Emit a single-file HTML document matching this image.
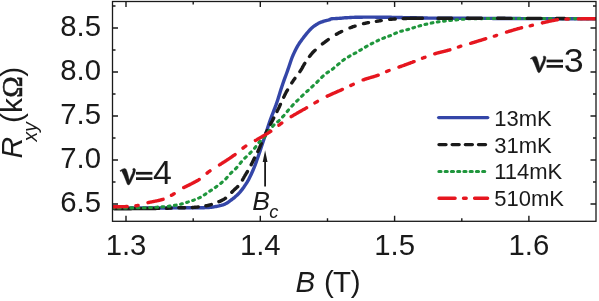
<!DOCTYPE html>
<html><head><meta charset="utf-8"><title>Rxy vs B</title>
<style>html,body{margin:0;padding:0;background:#fff;}body{width:599px;height:301px;overflow:hidden;position:relative;font-family:"Liberation Sans",sans-serif;}</style>
</head><body>
<svg width="599" height="301" viewBox="0 0 599 301" style="position:absolute;left:0;top:0;will-change:transform">
<rect x="0" y="0" width="599" height="301" fill="#fff"/>
<defs><clipPath id="cp"><rect x="112.5" y="1.5" width="483.5" height="219.8"/></clipPath></defs>
<g clip-path="url(#cp)" fill="none" stroke-linecap="round" stroke-linejoin="round" stroke-width="3.4">
<path d="M113.0,208.0 L114.0,208.0 L115.0,208.0 L116.0,208.0 L117.0,208.0 L118.0,208.0 L119.0,208.0 L120.0,208.0 L121.0,208.0 L122.0,208.0 L123.0,208.0 L124.0,208.0 L125.0,208.0 L126.0,208.0 L127.0,208.0 L128.0,208.0 L129.0,208.0 L130.0,208.0 L131.0,208.0 L132.0,208.0 L133.0,208.0 L134.0,208.0 L135.0,208.0 L136.0,208.0 L137.0,208.0 L138.0,208.0 L139.0,208.0 L140.0,208.0 L141.0,208.0 L142.0,208.0 L143.0,208.0 L144.0,208.0 L145.0,208.0 L146.0,208.0 L147.0,208.0 L148.0,208.0 L149.0,208.0 L150.0,208.0 L151.0,208.0 L152.0,208.0 L153.0,208.0 L154.0,208.0 L155.0,208.0 L156.0,208.0 L157.0,208.0 L158.0,208.0 L159.0,208.0 L160.0,208.0 L161.0,208.0 L162.0,208.0 L163.0,208.0 L164.0,208.0 L165.0,208.0 L166.0,208.0 L167.0,208.0 L168.0,208.0 L169.0,208.0 L170.0,208.0 L171.0,208.0 L172.0,208.0 L173.0,207.9 L174.0,207.9 L175.0,207.9 L176.0,207.9 L177.0,207.9 L178.0,207.9 L179.0,207.9 L180.0,207.9 L181.0,207.9 L182.0,207.9 L183.0,207.9 L184.0,207.9 L185.0,207.8 L186.0,207.8 L187.0,207.8 L188.0,207.8 L189.0,207.8 L190.0,207.8 L191.0,207.8 L192.0,207.8 L193.0,207.8 L194.0,207.8 L195.0,207.8 L196.0,207.8 L197.0,207.7 L198.0,207.7 L199.0,207.7 L200.0,207.7 L201.0,207.7 L202.0,207.7 L203.0,207.7 L204.0,207.7 L205.0,207.6 L206.0,207.6 L207.0,207.6 L208.0,207.5 L209.0,207.5 L210.0,207.4 L211.0,207.3 L212.0,207.2 L213.0,207.0 L214.0,206.9 L215.0,206.7 L216.0,206.5 L217.0,206.3 L218.0,206.1 L219.0,205.9 L220.0,205.6 L221.0,205.4 L222.0,205.1 L223.0,204.9 L224.0,204.5 L225.0,204.1 L226.0,203.6 L227.0,203.0 L228.0,202.3 L229.0,201.6 L230.0,200.9 L231.0,200.2 L232.0,199.4 L233.0,198.7 L234.0,197.9 L235.0,197.0 L236.0,196.1 L237.0,195.2 L238.0,194.2 L239.0,193.2 L240.0,192.1 L241.0,190.9 L242.0,189.7 L243.0,188.3 L244.0,186.9 L245.0,185.4 L246.0,183.9 L247.0,182.3 L248.0,180.6 L249.0,178.8 L250.0,176.8 L251.0,174.7 L252.0,172.5 L253.0,170.2 L254.0,167.8 L255.0,165.3 L256.0,162.6 L257.0,159.8 L258.0,157.0 L259.0,154.0 L260.0,151.1 L261.0,148.0 L262.0,145.0 L263.0,142.0 L264.0,139.0 L265.0,136.0 L266.0,133.0 L267.0,129.9 L268.0,126.8 L269.0,123.8 L270.0,120.9 L271.0,118.1 L272.0,115.4 L273.0,112.8 L274.0,110.2 L275.0,107.6 L276.0,104.9 L277.0,102.0 L278.0,99.0 L279.0,95.8 L280.0,92.5 L281.0,89.3 L282.0,86.2 L283.0,83.3 L284.0,80.4 L285.0,77.7 L286.0,75.0 L287.0,72.2 L288.0,69.4 L289.0,66.5 L290.0,63.4 L291.0,60.5 L292.0,57.7 L293.0,55.3 L294.0,53.1 L295.0,51.0 L296.0,49.0 L297.0,47.1 L298.0,45.4 L299.0,43.8 L300.0,42.3 L301.0,40.9 L302.0,39.5 L303.0,38.2 L304.0,36.9 L305.0,35.7 L306.0,34.4 L307.0,33.2 L308.0,32.0 L309.0,30.8 L310.0,29.7 L311.0,28.7 L312.0,27.8 L313.0,26.9 L314.0,26.2 L315.0,25.5 L316.0,24.8 L317.0,24.2 L318.0,23.6 L319.0,23.1 L320.0,22.6 L321.0,22.2 L322.0,21.8 L323.0,21.5 L324.0,21.2 L325.0,20.9 L326.0,20.6 L327.0,20.3 L328.0,20.1 L329.0,19.8 L330.0,19.5 L331.0,18.9 L332.0,18.7 L333.0,18.6 L334.0,18.6 L335.0,18.6 L336.0,18.5 L337.0,18.5 L338.0,18.4 L339.0,18.4 L340.0,18.3 L341.0,18.2 L342.0,18.1 L343.0,18.0 L344.0,17.9 L345.0,17.8 L346.0,17.7 L347.0,17.7 L348.0,17.6 L349.0,17.6 L350.0,17.5 L351.0,17.5 L352.0,17.4 L353.0,17.4 L354.0,17.4 L355.0,17.3 L356.0,17.3 L357.0,17.3 L358.0,17.3 L359.0,17.2 L360.0,17.2 L361.0,17.2 L362.0,17.2 L363.0,17.1 L364.0,17.1 L365.0,17.1 L366.0,17.1 L367.0,17.1 L368.0,17.1 L369.0,17.1 L370.0,17.1 L371.0,17.1 L372.0,17.1 L373.0,17.1 L374.0,17.1 L375.0,17.1 L376.0,17.2 L377.0,17.2 L378.0,17.2 L379.0,17.2 L380.0,17.2 L381.0,17.2 L382.0,17.2 L383.0,17.2 L384.0,17.2 L385.0,17.3 L386.0,17.3 L387.0,17.3 L388.0,17.3 L389.0,17.3 L390.0,17.3 L391.0,17.3 L392.0,17.4 L393.0,17.4 L394.0,17.4 L395.0,17.4 L396.0,17.4 L397.0,17.4 L398.0,17.5 L399.0,17.5 L400.0,17.5 L401.0,17.5 L402.0,17.5 L403.0,17.6 L404.0,17.6 L405.0,17.6 L406.0,17.6 L407.0,17.6 L408.0,17.7 L409.0,17.7 L410.0,17.7 L411.0,17.7 L412.0,17.7 L413.0,17.8 L414.0,17.8 L415.0,17.8 L416.0,17.8 L417.0,17.9 L418.0,17.9 L419.0,17.9 L420.0,17.9 L421.0,17.9 L422.0,18.0 L423.0,18.0 L424.0,18.0 L425.0,18.0 L426.0,18.0 L427.0,18.0 L428.0,18.1 L429.0,18.1 L430.0,18.1 L431.0,18.1 L432.0,18.1 L433.0,18.1 L434.0,18.1 L435.0,18.1 L436.0,18.1 L437.0,18.2 L438.0,18.2 L439.0,18.2 L440.0,18.2 L441.0,18.2 L442.0,18.2 L443.0,18.2 L444.0,18.2 L445.0,18.2 L446.0,18.2 L447.0,18.2 L448.0,18.2 L449.0,18.2 L450.0,18.2 L451.0,18.3 L452.0,18.3 L453.0,18.3 L454.0,18.3 L455.0,18.3 L456.0,18.3 L457.0,18.3 L458.0,18.3 L459.0,18.3 L460.0,18.3 L461.0,18.3 L462.0,18.3 L463.0,18.3 L464.0,18.3 L465.0,18.3 L466.0,18.3 L467.0,18.3 L468.0,18.3 L469.0,18.4 L470.0,18.4 L471.0,18.4 L472.0,18.4 L473.0,18.4 L474.0,18.4 L475.0,18.4 L476.0,18.4 L477.0,18.4 L478.0,18.4 L479.0,18.4 L480.0,18.4 L481.0,18.4 L482.0,18.4 L483.0,18.4 L484.0,18.4 L485.0,18.4 L486.0,18.4 L487.0,18.4 L488.0,18.4 L489.0,18.4 L490.0,18.4 L491.0,18.4 L492.0,18.4 L493.0,18.5 L494.0,18.5 L495.0,18.5 L496.0,18.5 L497.0,18.5 L498.0,18.5 L499.0,18.5 L500.0,18.5 L501.0,18.5 L502.0,18.5 L503.0,18.5 L504.0,18.5 L505.0,18.5 L506.0,18.5 L507.0,18.5 L508.0,18.5 L509.0,18.5 L510.0,18.5 L511.0,18.5 L512.0,18.5 L513.0,18.5 L514.0,18.5 L515.0,18.5 L516.0,18.5 L517.0,18.5 L518.0,18.5 L519.0,18.5 L520.0,18.5 L521.0,18.6 L522.0,18.6 L523.0,18.6 L524.0,18.6 L525.0,18.6 L526.0,18.6 L527.0,18.6 L528.0,18.6 L529.0,18.6 L530.0,18.6 L531.0,18.6 L532.0,18.6 L533.0,18.6 L534.0,18.6 L535.0,18.6 L536.0,18.6 L537.0,18.6 L538.0,18.6 L539.0,18.6 L540.0,18.6 L541.0,18.6 L542.0,18.6 L543.0,18.6 L544.0,18.6 L545.0,18.6 L546.0,18.6 L547.0,18.6 L548.0,18.6 L549.0,18.6 L550.0,18.6 L551.0,18.6 L552.0,18.6 L553.0,18.6 L554.0,18.6 L555.0,18.6 L556.0,18.7 L557.0,18.7 L558.0,18.7 L559.0,18.7 L560.0,18.7 L561.0,18.7 L562.0,18.7 L563.0,18.7 L564.0,18.7 L565.0,18.7 L566.0,18.7 L567.0,18.7 L568.0,18.7 L569.0,18.7 L570.0,18.7 L571.0,18.7 L572.0,18.7 L573.0,18.7 L574.0,18.7 L575.0,18.7 L576.0,18.7 L577.0,18.7 L578.0,18.7 L579.0,18.7 L580.0,18.7 L581.0,18.7 L582.0,18.7 L583.0,18.7 L584.0,18.7 L585.0,18.7 L586.0,18.7 L587.0,18.7 L588.0,18.7 L589.0,18.7 L590.0,18.7 L591.0,18.7 L592.0,18.7 L593.0,18.7 L594.0,18.7 L595.0,18.7 L596.0,18.7" stroke="#3446a8" stroke-linecap="butt"/>
<path d="M114.3,208.7 L114.8,208.7 L115.3,208.7 L115.8,208.7 L116.3,208.7 L116.8,208.7 L117.3,208.7 L117.8,208.7 L118.3,208.7 L118.8,208.7 L119.3,208.7 L119.9,208.7 L120.4,208.7 L120.9,208.7 L121.4,208.7 L121.9,208.7 L122.4,208.7 L122.9,208.7 L123.4,208.7 L123.9,208.7 L124.4,208.7 L124.9,208.7 L125.4,208.7 L125.9,208.7 L126.4,208.7 L126.9,208.7 L127.4,208.7 L127.9,208.7 L128.4,208.7 L128.9,208.7 L129.4,208.7 L129.9,208.7 L130.4,208.7 L131.0,208.7 L131.5,208.7 L132.0,208.6 L132.5,208.6 L133.0,208.6 L133.5,208.6 L134.0,208.6 L134.5,208.6 L135.0,208.6 L135.5,208.6 L136.0,208.6 L136.5,208.6 L137.0,208.6 L137.5,208.6 L138.0,208.6 L138.5,208.6 L139.0,208.6 L139.5,208.6 L140.0,208.6 L140.5,208.6 L141.0,208.6 L141.5,208.6 L142.1,208.6 L142.6,208.6 L143.1,208.6 L143.6,208.6 L144.1,208.6 L144.6,208.6 L145.1,208.6 L145.6,208.6 L146.1,208.5 L146.6,208.5 L147.1,208.5 L147.6,208.5 L148.1,208.5 L148.6,208.5 L149.1,208.5 L149.6,208.5 L150.1,208.5 L150.6,208.5 L151.1,208.5 L151.6,208.5 L152.1,208.5 L152.6,208.5 L153.2,208.5 L153.7,208.5 L154.2,208.5 L154.7,208.5 L155.2,208.5 L155.7,208.5 L156.2,208.4 L156.7,208.4 L157.2,208.4 L157.7,208.4 L158.2,208.4 L158.7,208.4 M166.3,208.2 L166.8,208.2 L167.4,208.2 L167.9,208.2 L168.5,208.1 L169.0,208.1 L169.6,208.1 L170.1,208.1 L170.7,208.0 L171.2,208.0 M178.8,207.8 L179.3,207.8 L179.9,207.8 L180.4,207.8 L180.9,207.8 L181.5,207.8 L182.0,207.8 L182.6,207.8 L183.1,207.8 L183.6,207.7 L184.2,207.7 L184.7,207.7 M192.3,207.5 L192.8,207.5 L193.4,207.4 L193.9,207.4 L194.4,207.3 L195.0,207.3 L195.5,207.2 L196.1,207.2 L196.6,207.1 L197.1,207.1 L197.7,207.0 L198.2,206.9 M205.8,205.8 L206.3,205.8 L206.8,205.7 L207.3,205.6 L207.8,205.5 L208.3,205.4 L208.8,205.2 L209.3,205.1 L209.8,205.0 L210.3,204.8 L210.8,204.7 L211.3,204.5 M218.9,201.7 L219.4,201.5 L219.9,201.3 L220.4,201.1 L220.9,200.8 L221.4,200.6 L221.9,200.3 L222.4,200.1 L222.9,199.8 L223.5,199.5 L224.0,199.2 L224.5,198.9 L225.0,198.6 L225.5,198.2 M231.8,192.3 L232.3,191.8 L232.8,191.2 L233.4,190.6 L233.9,190.1 L234.4,189.6 L235.0,189.1 L235.5,188.6 L236.1,188.1 L236.6,187.6 L237.1,187.1 L237.7,186.6 M242.5,180.0 L243.0,179.0 L243.6,178.0 L244.1,177.0 L244.7,176.0 L245.2,175.1 L245.8,174.2 L246.3,173.4 L246.9,172.5 L247.4,171.6 M251.2,164.8 L251.7,163.7 L252.3,162.5 L252.8,161.4 L253.4,160.2 L254.0,159.1 L254.5,158.0 M257.8,151.6 L258.3,150.5 L258.8,149.4 L259.3,148.3 L259.8,147.1 L260.3,145.9 L260.8,144.7 L261.3,143.5 M264.3,136.7 L264.9,135.4 L265.5,134.1 L266.0,132.9 L266.6,131.7 L267.2,130.5 M270.4,124.4 L271.0,123.4 L271.5,122.3 L272.1,121.2 L272.6,120.2 L273.2,119.1 L273.7,118.0 M277.0,111.5 L277.5,110.4 L278.1,109.2 L278.7,108.1 L279.3,106.9 L279.8,105.7 L280.4,104.4 M283.7,97.2 L284.3,96.0 L284.8,94.9 L285.3,93.9 L285.9,92.8 L286.4,91.8 L287.0,90.9 L287.5,89.9 M291.8,82.9 L292.3,82.1 L292.8,81.4 L293.3,80.6 L293.9,79.8 L294.4,79.1 L294.9,78.4 M299.9,71.6 L300.4,70.8 L301.0,70.0 L301.5,69.1 L302.1,68.1 L302.6,67.2 L303.1,66.2 L303.7,65.2 L304.2,64.3 L304.8,63.4" stroke="#1a1a1a"/>
<path d="M113.0,208.0 L114.0,208.0 M118.4,208.0 L119.0,208.0 L119.6,208.0 L120.2,208.0 M124.6,208.0 L125.2,208.0 L125.8,207.9 L126.4,207.9 M130.9,207.9 L131.5,207.9 L132.1,207.9 L132.7,207.9 M137.1,207.8 L137.7,207.8 L138.3,207.8 L138.9,207.8 M143.3,207.7 L143.9,207.7 L144.5,207.7 L145.1,207.7 M149.6,207.5 L150.2,207.5 L150.8,207.5 L151.4,207.5 M155.8,207.2 L156.4,207.2 L157.0,207.2 L157.6,207.1 M162.0,206.9 L162.6,206.8 L163.2,206.8 L163.8,206.7 M168.2,206.2 L168.8,206.2 L169.4,206.1 L170.0,206.0 M174.4,205.4 L175.0,205.3 L175.6,205.2 L176.2,205.1 M180.6,204.2 L181.2,204.1 L181.7,203.9 L182.3,203.8 M186.7,202.5 L187.2,202.3 L187.8,202.1 L188.4,201.9 M192.7,200.5 L193.3,200.3 L193.8,200.1 L194.4,199.9 M198.6,198.1 L199.2,197.9 L199.8,197.6 L200.3,197.3 M204.3,194.9 L204.9,194.6 L205.4,194.2 L205.9,193.8 M209.8,191.1 L210.3,190.8 L210.9,190.4 L211.4,190.1 M215.3,187.5 L215.9,187.1 L216.4,186.7 L216.9,186.3 M220.7,183.4 L221.5,182.8 L222.2,182.1 M225.8,178.8 L226.5,178.1 L227.2,177.3 M230.5,173.6 L231.2,172.8 L231.9,172.1 M235.5,168.8 L236.2,168.1 L236.9,167.4 M240.1,163.4 L240.8,162.6 L241.4,161.8 M244.8,158.2 L245.5,157.5 L246.2,156.8 M249.8,153.4 L250.5,152.7 L251.2,152.0 M254.6,148.3 L255.2,147.5 L255.8,146.6 M258.9,142.5 L259.6,141.8 L260.3,141.1 M263.8,137.7 L264.5,136.9 L265.2,136.2 M268.3,132.1 L268.9,131.2 L269.5,130.4 M272.6,126.3 L273.3,125.6 L274.0,124.9 M277.7,121.8 L278.5,121.2 L279.2,120.5 M282.6,116.9 L283.3,116.2 L284.0,115.4 M287.2,111.5 L287.8,110.7 L288.5,109.9 M291.8,106.2 L292.5,105.4 L293.2,104.7 M296.7,101.2 L297.4,100.5 L298.1,99.8" stroke="#1f963c" stroke-width="3.1"/>
<path d="M301.6,96.3 L302.4,95.6 L303.1,94.9 M306.7,91.6 L307.4,91.0 L308.2,90.3 M311.8,87.0 L312.5,86.4 L313.2,85.7 M316.8,82.3 L317.5,81.6 L318.2,80.9 M321.7,77.4 L322.4,76.7 L323.2,76.0 M326.9,72.9 L327.4,72.6 L327.9,72.2 L328.5,71.9 M332.4,69.3 L332.9,68.9 L333.4,68.5 L333.9,68.0 M337.6,64.9 L338.4,64.2 L339.1,63.6 M342.8,60.5 L343.3,60.1 L343.9,59.7 L344.4,59.3 M348.4,56.9 L348.9,56.6 L349.5,56.2 L350.0,55.9 M354.1,53.7 L354.7,53.4 L355.2,53.1 L355.8,52.8 M359.8,50.4 L360.3,50.1 L360.9,49.8 L361.4,49.5 M365.4,47.1 L366.0,46.7 L366.5,46.4 L367.1,46.1 M371.2,43.9 L371.7,43.6 L372.3,43.3 L372.8,43.1 M377.0,41.0 L377.5,40.7 L378.1,40.5 L378.6,40.2 M382.8,38.4 L383.4,38.2 L384.0,38.0 L384.6,37.7 M388.8,36.2 L389.4,35.9 L390.0,35.7 L390.5,35.5 M394.7,33.6 L395.3,33.3 L395.9,33.1 L396.4,32.8 M400.7,31.3 L401.3,31.2 L401.9,31.0 L402.4,30.9 M406.8,29.8 L407.4,29.7 L408.0,29.5 L408.6,29.3 M412.9,28.0 L413.4,27.8 L414.0,27.6 L414.6,27.4 M418.9,26.1 L419.5,25.9 L420.1,25.7 L420.7,25.6 M425.0,24.5 L425.6,24.3 L426.2,24.2 L426.8,24.1 M431.2,23.1 L431.7,23.0 L432.3,22.9 L432.9,22.7 M437.3,22.0 L437.9,21.9 L438.5,21.8 L439.1,21.7 M443.5,21.1 L444.1,21.1 L444.7,21.0 L445.3,20.9 M449.7,20.5 L450.3,20.4 L450.9,20.4 L451.5,20.3 M455.9,19.9 L456.5,19.9 L457.1,19.8 L457.7,19.8 M462.2,19.3 L462.7,19.3 L463.3,19.2 L463.9,19.2 M468.4,18.8 L469.0,18.8 L469.6,18.8 L470.2,18.8 M474.6,18.7 L475.2,18.7 L475.8,18.7 L476.4,18.6 M480.8,18.6 L481.4,18.6 L482.0,18.6 L482.6,18.5 M487.1,18.5 L487.7,18.5 L488.3,18.5 L488.9,18.5 M493.3,18.5 L493.9,18.5 L494.5,18.5 L495.1,18.5 M499.5,18.5 L500.1,18.5 L500.7,18.5 L501.3,18.5 M505.7,18.5 L506.3,18.5 L506.9,18.5 L507.5,18.5 M512.0,18.5 L512.6,18.5 L513.2,18.5 L513.8,18.5 M518.2,18.5 L518.8,18.5 L519.4,18.5 L520.0,18.5 M524.4,18.5 L525.0,18.5 L525.6,18.5 L526.2,18.5 M530.7,18.5 L531.3,18.5 L531.9,18.5 L532.5,18.5 M536.9,18.5 L537.5,18.5 L538.1,18.5 L538.7,18.5 M543.1,18.5 L543.7,18.5 L544.3,18.5 L544.9,18.5 M549.4,18.5 L550.0,18.5 L550.6,18.5 L551.2,18.5 M555.6,18.5 L556.2,18.5 L556.8,18.6 L557.4,18.6 M561.8,18.6 L562.4,18.6 L563.0,18.6 L563.6,18.6 M568.0,18.6 L568.6,18.6 L569.2,18.6 L569.8,18.6 M574.3,18.6 L574.9,18.6 L575.5,18.6 L576.1,18.6 M580.5,18.6 L581.1,18.6 L581.7,18.6 L582.3,18.6 M586.7,18.7 L587.3,18.7 L587.9,18.7 L588.5,18.7 M593.0,18.7 L593.6,18.7 L594.2,18.7 L594.8,18.7" stroke="#1f963c" stroke-width="3.1"/>
<path d="M309.5,56.5 L310.0,55.9 L310.5,55.2 L311.0,54.6 L311.5,54.0 L312.0,53.4 L312.5,52.8 L313.0,52.3 L313.5,51.7 L314.0,51.2 L314.5,50.7 L315.1,50.2 M322.4,43.9 L323.0,43.5 L323.5,43.1 L324.0,42.7 L324.6,42.3 L325.1,41.9 L325.6,41.5 L326.2,41.1 L326.7,40.7 L327.2,40.3 L327.8,39.9 L328.3,39.5 M336.4,34.3 L336.9,34.0 L337.4,33.7 L337.9,33.4 L338.5,33.1 L339.0,32.8 L339.5,32.5 L340.1,32.3 L340.6,32.0 L341.1,31.7 L341.7,31.5 M350.0,27.8 L350.5,27.7 L351.0,27.5 L351.5,27.3 L352.0,27.1 L352.5,26.9 L353.0,26.7 L353.5,26.6 L354.1,26.4 L354.6,26.2 L355.1,26.1 M363.5,23.6 L364.1,23.5 L364.7,23.4 L365.2,23.3 L365.8,23.1 L366.3,23.0 L366.9,22.9 L367.4,22.8 L368.0,22.7 L368.5,22.6 M376.4,21.3 L376.9,21.2 L377.5,21.1 L378.0,21.0 L378.6,21.0 L379.1,20.9 L379.7,20.8 L380.2,20.7 L380.8,20.6 L381.3,20.6 M389.7,19.4 L390.2,19.3 L390.7,19.3 L391.2,19.2 L391.7,19.2 L392.2,19.2 L392.7,19.1 L393.3,19.1 L393.8,19.1 L394.3,19.0 L394.8,19.0 L395.3,19.0 M403.1,18.6 L403.6,18.6 L404.1,18.5 L404.6,18.5 L405.1,18.5 L405.7,18.5 L406.2,18.5 L406.7,18.4 L407.2,18.4 L407.7,18.4 L408.2,18.4 L408.7,18.4 L409.2,18.4 L409.7,18.4 L410.2,18.3 L410.8,18.3 L411.3,18.3 L411.8,18.3 L412.3,18.3 L412.8,18.3 L413.3,18.3 L413.8,18.3 L414.3,18.3 L414.8,18.3 L415.4,18.3 L415.9,18.3 L416.4,18.3 L416.9,18.3 L417.4,18.3 L417.9,18.3 L418.4,18.3 L418.9,18.3 L419.4,18.3 L419.9,18.3 L420.5,18.3 L421.0,18.3 L421.5,18.3 L422.0,18.3 L422.5,18.3 M438.0,18.3 L438.5,18.3 L439.0,18.3 L439.5,18.3 L440.0,18.3 L440.5,18.3 L441.0,18.3 L441.6,18.3 L442.1,18.3 L442.6,18.3 L443.1,18.3 L443.6,18.3 L444.1,18.3 L444.6,18.3 L445.1,18.3 L445.6,18.3 L446.1,18.3 L446.6,18.3 L447.1,18.3 L447.6,18.3 L448.1,18.3 L448.7,18.3 L449.2,18.3 L449.7,18.3 L450.2,18.3 L450.7,18.3 L451.2,18.3 L451.7,18.3 M467.1,18.3 L467.6,18.3 L468.1,18.3 L468.6,18.3 L469.2,18.3 L469.7,18.3 L470.2,18.3 L470.7,18.3 L471.2,18.3 L471.7,18.3 L472.2,18.3 L472.8,18.3 L473.3,18.3 L473.8,18.3 L474.3,18.3 L474.8,18.3 L475.3,18.3 L475.8,18.3 L476.4,18.3 L476.9,18.3 L477.4,18.3 L477.9,18.3 L478.4,18.3 L478.9,18.3 L479.4,18.3 L480.0,18.3 L480.5,18.3 L481.0,18.3 L481.5,18.3 M497.5,18.3 L498.0,18.3 L498.5,18.3 L499.0,18.3 L499.5,18.3 L500.1,18.3 L500.6,18.3 L501.1,18.3 L501.6,18.3 L502.1,18.3 L502.6,18.3 L503.1,18.3 L503.6,18.3 L504.1,18.3 L504.7,18.3 L505.2,18.3 L505.7,18.4 L506.2,18.4 L506.7,18.4 L507.2,18.4 L507.7,18.4 L508.2,18.4 L508.7,18.4 L509.3,18.4 L509.8,18.4 L510.3,18.4 L510.8,18.4 L511.3,18.4 M527.2,18.4 L527.7,18.4 L528.2,18.4 L528.7,18.4 L529.3,18.4 L529.8,18.4 L530.3,18.4 L530.8,18.4 L531.3,18.4 L531.8,18.4 L532.3,18.4 L532.9,18.4 L533.4,18.4 L533.9,18.4 L534.4,18.4 L534.9,18.4 L535.4,18.4 L536.0,18.4 L536.5,18.4 L537.0,18.4 L537.5,18.4 L538.0,18.4 L538.5,18.4 L539.0,18.4 L539.6,18.4 L540.1,18.4 L540.6,18.4 L541.1,18.4 M556.3,18.5 L556.8,18.5 L557.3,18.5 L557.9,18.5 L558.4,18.5 L558.9,18.5 L559.4,18.5 L560.0,18.5 L560.5,18.5 L561.0,18.5 L561.6,18.5 L562.1,18.5 L562.6,18.5 L563.1,18.5 L563.7,18.5 L564.2,18.5 L564.7,18.5" stroke="#1a1a1a"/>
<path d="M112.7,206.7 L113.2,206.7 L113.7,206.7 L114.2,206.7 L114.8,206.7 L115.3,206.7 L115.8,206.7 L116.3,206.7 L116.8,206.7 L117.3,206.7 L117.9,206.7 L118.4,206.7 L118.9,206.7 L119.4,206.7 L119.9,206.7 L120.4,206.6 L121.0,206.6 L121.5,206.6 L122.0,206.6 L122.5,206.6 L123.0,206.6 L123.5,206.6 L124.1,206.6 L124.6,206.6 L125.1,206.6 L125.6,206.6 L126.1,206.5 L126.6,206.5 L127.2,206.5 M135.8,205.7 L136.4,205.7 L137.0,205.6 L137.5,205.5 L138.1,205.4 M148.0,202.7 L148.5,202.6 L149.0,202.4 L149.6,202.3 L150.1,202.2 L150.6,202.1 L151.1,202.0 L151.6,201.9 L152.1,201.8 L152.6,201.7 L153.1,201.6 L153.6,201.5 L154.1,201.4 L154.6,201.3 L155.1,201.2 L155.6,201.1 L156.1,201.0 L156.6,200.9 L157.1,200.8 L157.6,200.7 L158.1,200.6 L158.6,200.5 L159.1,200.4 L159.6,200.2 L160.1,200.1 L160.6,200.0 L161.1,199.9 L161.6,199.7 L162.1,199.6 L162.6,199.4 L163.1,199.3 M171.5,195.3 L172.0,195.0 L172.6,194.7 L173.1,194.3 L173.6,194.0 L174.2,193.7 M183.7,187.6 L184.2,187.4 L184.8,187.1 L185.3,186.8 L185.8,186.6 L186.3,186.3 L186.8,186.1 L187.3,185.8 L187.8,185.6 L188.4,185.3 L188.9,185.1 L189.4,184.8 L189.9,184.6 L190.4,184.3 L190.9,184.0 L191.4,183.8 L192.0,183.5 L192.5,183.2 L193.0,183.0 L193.5,182.7 L194.0,182.4 L194.5,182.2 L195.0,181.9 L195.6,181.6 L196.1,181.3 L196.6,181.1 L197.1,180.8 L197.6,180.5 L198.1,180.2 L198.6,179.9 L199.2,179.5 M207.1,173.1 L207.7,172.6 L208.3,172.1 L208.9,171.7 L209.4,171.3 L210.0,170.9 M219.5,164.9 L220.0,164.6 L220.5,164.3 L221.0,163.9 L221.5,163.6 L222.0,163.3 L222.5,163.0 L223.0,162.6 L223.5,162.3 L224.0,162.0 L224.5,161.7 L225.0,161.4 L225.5,161.0 L226.0,160.7 L226.5,160.4 L227.0,160.0 L227.5,159.7 L228.0,159.4 L228.5,159.1 L229.0,158.7 L229.5,158.4 L230.0,158.1 L230.5,157.7 L231.0,157.4 L231.5,157.0 L232.0,156.7 L232.5,156.3 L233.0,156.0 L233.5,155.6 L234.1,155.3 L234.6,154.9 L235.1,154.5 M243.0,148.1 L243.6,147.6 L244.1,147.2 L244.7,146.8 L245.3,146.4 L245.8,146.0 M255.4,140.5 L255.9,140.2 L256.5,139.9 L257.0,139.6 L257.5,139.3 L258.0,139.0 L258.5,138.7 L259.0,138.4 L259.5,138.1 L260.1,137.8 L260.6,137.5 L261.1,137.2 L261.6,136.9 L262.1,136.6 L262.6,136.3 L263.1,136.0 L263.6,135.7 L264.2,135.4 L264.7,135.1 L265.2,134.8 L265.7,134.5 L266.2,134.2 L266.7,133.9 L267.2,133.6 L267.8,133.2 L268.3,132.9 L268.8,132.6 L269.3,132.3 L269.8,131.9 L270.3,131.6 L270.8,131.3 M278.9,125.2 L279.5,124.8 L280.0,124.3 L280.6,123.9 L281.2,123.5 L281.8,123.0 M291.2,116.7 L291.7,116.3 L292.3,116.0 L292.8,115.7 L293.3,115.4 L293.8,115.1 L294.3,114.8 L294.8,114.5 L295.3,114.2 L295.9,113.9 L296.4,113.6 L296.9,113.3 L297.4,113.0 L297.9,112.7 L298.4,112.4 L298.9,112.1 L299.4,111.9 L300.0,111.6 L300.5,111.3 L301.0,111.0 L301.5,110.7 L302.0,110.4 L302.5,110.1 L303.0,109.8 L303.6,109.5 L304.1,109.3 L304.6,109.0 L305.1,108.7 L305.6,108.4 L306.1,108.1 L306.6,107.8 M314.9,102.9 L315.4,102.6 L315.9,102.3 L316.5,102.0 L317.0,101.7 L317.5,101.4 M327.2,96.2 L327.7,96.0 L328.2,95.7 L328.7,95.5 L329.2,95.3 L329.7,95.0 L330.2,94.8 L330.7,94.6 L331.2,94.3 L331.7,94.1 L332.2,93.9 L332.8,93.6 L333.3,93.4 L333.8,93.2 L334.3,93.0 L334.8,92.8 L335.3,92.5 L335.8,92.3 L336.3,92.1 L336.8,91.9 L337.3,91.7 L337.8,91.4 L338.3,91.2 L338.9,91.0 L339.4,90.8 L339.9,90.5 L340.4,90.3 L340.9,90.1 L341.4,89.9 L341.9,89.6 L342.4,89.4 M350.8,85.5 L351.3,85.2 L351.8,85.0 L352.3,84.8 L352.8,84.5 L353.3,84.3 M363.1,79.9 L363.6,79.8 L364.1,79.6 L364.6,79.4 L365.1,79.2 L365.6,79.1 L366.1,78.9 L366.6,78.7 L367.1,78.6 L367.6,78.4 L368.1,78.3 L368.6,78.1 L369.1,78.0 L369.6,77.8 L370.1,77.7 L370.6,77.5 L371.1,77.4 L371.7,77.2 L372.2,77.1 L372.7,76.9 L373.2,76.8 L373.7,76.6 L374.2,76.5 L374.7,76.3 L375.2,76.2 L375.7,76.0 L376.2,75.9 L376.7,75.7 L377.2,75.5 L377.7,75.4 L378.2,75.2 M386.6,71.5 L387.3,71.2 L387.9,71.0 L388.5,70.7 L389.1,70.5 M399.0,67.1 L399.5,66.9 L400.0,66.7 L400.5,66.6 L401.0,66.4 L401.5,66.2 L402.0,66.0 L402.5,65.8 L403.0,65.7 L403.5,65.5 L404.0,65.3 L404.5,65.1 L405.0,64.9 L405.5,64.7 L406.0,64.6 L406.5,64.4 L407.0,64.2 L407.5,64.0 L408.0,63.8 L408.5,63.6 L409.0,63.4 L409.5,63.3 L410.0,63.1 L410.5,62.9 L411.0,62.7 L411.5,62.5 L412.1,62.3 L412.6,62.1 L413.1,61.9 L413.6,61.7 L414.1,61.6 M422.5,58.2 L423.1,58.0 L423.7,57.7 L424.4,57.5 L425.0,57.3 M434.8,53.8 L435.3,53.6 L435.8,53.5 L436.3,53.3 L436.8,53.2 L437.3,53.0 L437.8,52.9 L438.3,52.8 L438.8,52.6 L439.3,52.5 L439.8,52.4 L440.3,52.3 L440.8,52.1 L441.3,52.0 L441.8,51.9 L442.3,51.8 L442.8,51.6 L443.4,51.5 L443.9,51.4 L444.4,51.3 L444.9,51.1 L445.4,51.0 L445.9,50.9 L446.4,50.8 L446.9,50.6 L447.4,50.5 L447.9,50.4 L448.4,50.2 L448.9,50.1 L449.4,50.0 L449.9,49.8 M458.4,47.0 L459.0,46.8 L459.6,46.6 L460.2,46.4 L460.8,46.2 M470.7,43.3 L471.2,43.2 L471.7,43.0 L472.2,42.9 L472.7,42.7 L473.2,42.6 L473.7,42.4 L474.2,42.3 L474.7,42.1 L475.2,41.9 L475.7,41.8 L476.2,41.6 L476.7,41.5 L477.2,41.3 L477.7,41.2 L478.2,41.0 L478.7,40.9 L479.2,40.7 L479.7,40.6 L480.2,40.4 L480.7,40.3 L481.2,40.1 L481.7,40.0 L482.2,39.8 L482.7,39.7 L483.2,39.5 L483.7,39.4 L484.2,39.2 L484.7,39.1 L485.2,38.9 L485.7,38.7 M494.3,36.1 L494.9,36.0 L495.5,35.8 L496.0,35.6 L496.6,35.4 M506.5,32.1 L507.0,32.0 L507.5,31.8 L508.0,31.7 L508.5,31.5 L509.0,31.4 L509.5,31.2 L510.0,31.1 L510.5,30.9 L511.0,30.8 L511.5,30.6 L512.0,30.5 L512.5,30.3 L513.0,30.2 L513.5,30.0 L514.0,29.9 L514.5,29.7 L515.0,29.6 L515.5,29.4 L516.0,29.3 L516.5,29.2 L517.0,29.0 L517.5,28.9 L518.0,28.7 L518.5,28.6 L519.0,28.5 L519.5,28.3 L520.0,28.2 L520.5,28.1 L521.0,27.9 L521.6,27.8 M530.2,25.8 L530.7,25.7 L531.3,25.5 L531.9,25.4 L532.4,25.3 M542.4,22.9 L542.9,22.7 L543.4,22.6 L544.0,22.5 L544.5,22.4 L545.0,22.3 L545.5,22.2 L546.0,22.0 L546.5,21.9 L547.0,21.8 L547.6,21.7 L548.1,21.6 L548.6,21.4 L549.1,21.3 L549.6,21.2 L550.1,21.1 L550.7,21.0 L551.2,20.9 L551.7,20.8 L552.2,20.7 L552.7,20.6 L553.2,20.5 L553.7,20.4 L554.3,20.3 L554.8,20.2 L555.3,20.1 L555.8,20.0 L556.3,19.9 L556.8,19.9 L557.4,19.8 M566.0,19.1 L566.6,19.0 L567.1,19.0 L567.7,19.0 L568.3,19.0 M578.3,18.9 L578.8,18.9 L579.3,18.9 L579.8,18.9 L580.3,18.9 L580.8,18.9 L581.3,18.9 L581.8,18.8 L582.3,18.8 L582.8,18.8 L583.3,18.8 L583.8,18.8 L584.3,18.8 L584.8,18.8 L585.3,18.8 L585.8,18.8 L586.3,18.8 L586.8,18.8 L587.3,18.8 L587.8,18.8 L588.3,18.8 L588.8,18.8 L589.3,18.8 L589.8,18.8 L590.3,18.8 L590.8,18.8 L591.3,18.8 L591.8,18.8 L592.3,18.8 L592.8,18.8 L593.3,18.8 L593.8,18.8 L594.3,18.8 L594.8,18.8 L595.3,18.8 L595.8,18.8 L596.3,18.8 L596.8,18.8 L597.3,18.8" stroke="#e6161f"/>
</g>
<rect x="112.5" y="1.5" width="483.5" height="219.8" fill="none" stroke="#1a1a1a" stroke-width="1.3"/>
<path d="M126.0,221.3 v-5.5 M126.0,1.5 v5.5 M193.2,221.3 v-3 M193.2,1.5 v3 M260.3,221.3 v-5.5 M260.3,1.5 v5.5 M327.5,221.3 v-3 M327.5,1.5 v3 M394.6,221.3 v-5.5 M394.6,1.5 v5.5 M461.8,221.3 v-3 M461.8,1.5 v3 M528.9,221.3 v-5.5 M528.9,1.5 v5.5 M112.5,204.0 h5.5 M596.0,204.0 h-5.5 M112.5,182.0 h3 M596.0,182.0 h-3 M112.5,160.0 h5.5 M596.0,160.0 h-5.5 M112.5,138.0 h3 M596.0,138.0 h-3 M112.5,116.0 h5.5 M596.0,116.0 h-5.5 M112.5,94.0 h3 M596.0,94.0 h-3 M112.5,72.0 h5.5 M596.0,72.0 h-5.5 M112.5,50.0 h3 M596.0,50.0 h-3 M112.5,28.0 h5.5 M596.0,28.0 h-5.5 M112.5,6.0 h3 M596.0,6.0 h-3" stroke="#1a1a1a" stroke-width="1.4" fill="none"/>
<g fill="none" stroke-width="3.4" stroke-linecap="round">
<path d="M438.7,117.6 H487.7" stroke="#3446a8"/>
<path d="M439,144.6 H487" stroke="#1a1a1a" stroke-dasharray="7 6.17"/>
<path d="M438.9,171.5 H487" stroke="#1f963c" stroke-width="3.1" stroke-dasharray="2.1 4.15"/>
<path d="M439,198.3 H455.1 M463.5,198.3 H466.2 M474.6,198.3 H487.6" stroke="#e6161f"/>
</g>
<path d="M265.1,186.4 V160" stroke="#1a1a1a" stroke-width="1.8" fill="none"/>
<path d="M265.1,150.2 L267.5,162 L262.7,162 Z" fill="#1a1a1a"/>
<text x="126.0" y="255.3" font-family="Liberation Sans, sans-serif" font-size="29.3" text-anchor="middle" fill="#1a1a1a" >1.3</text>
<text x="260.29999999999984" y="255.3" font-family="Liberation Sans, sans-serif" font-size="29.3" text-anchor="middle" fill="#1a1a1a" >1.4</text>
<text x="394.59999999999997" y="255.3" font-family="Liberation Sans, sans-serif" font-size="29.3" text-anchor="middle" fill="#1a1a1a" >1.5</text>
<text x="528.9000000000001" y="255.3" font-family="Liberation Sans, sans-serif" font-size="29.3" text-anchor="middle" fill="#1a1a1a" >1.6</text>
<text x="101.0" y="36.4" font-family="Liberation Sans, sans-serif" font-size="29.3" text-anchor="end" fill="#1a1a1a" >8.5</text>
<text x="101.0" y="80.4" font-family="Liberation Sans, sans-serif" font-size="29.3" text-anchor="end" fill="#1a1a1a" >8.0</text>
<text x="101.0" y="124.4" font-family="Liberation Sans, sans-serif" font-size="29.3" text-anchor="end" fill="#1a1a1a" >7.5</text>
<text x="101.0" y="168.4" font-family="Liberation Sans, sans-serif" font-size="29.3" text-anchor="end" fill="#1a1a1a" >7.0</text>
<text x="101.0" y="212.4" font-family="Liberation Sans, sans-serif" font-size="29.3" text-anchor="end" fill="#1a1a1a" >6.5</text>
<text x="494.2" y="126" font-family="Liberation Sans, sans-serif" font-size="22" text-anchor="start" fill="#1a1a1a" >13mK</text>
<text x="494.2" y="152.5" font-family="Liberation Sans, sans-serif" font-size="22" text-anchor="start" fill="#1a1a1a" >31mK</text>
<text x="494.2" y="179" font-family="Liberation Sans, sans-serif" font-size="22" text-anchor="start" fill="#1a1a1a" >114mK</text>
<text x="494.2" y="205.5" font-family="Liberation Sans, sans-serif" font-size="22" text-anchor="start" fill="#1a1a1a" >510mK</text>
<text x="295.5" y="291.8" font-family="Liberation Sans, sans-serif" font-size="29.5" fill="#1a1a1a"><tspan font-style="italic">B</tspan><tspan dx="0.6"> (</tspan><tspan dx="-0.7">T</tspan><tspan dx="-0.3">)</tspan></text>
<g transform="translate(21.6,0) rotate(-90)"><text x="-158.6" y="0" font-family="Liberation Sans, sans-serif" font-size="30" fill="#1a1a1a" font-style="italic">R</text><text x="-141.4" y="15.0" font-family="Liberation Sans, sans-serif" font-size="19.3" fill="#1a1a1a" font-style="italic">xy</text><text x="-123.1" y="0" font-family="Liberation Sans, sans-serif" font-size="30" fill="#1a1a1a" >(k</text><text x="-97.7" y="0" font-family="Liberation Sans, sans-serif" font-size="29.0" fill="#1a1a1a" style="font-family:'Liberation Serif',serif" stroke="#1a1a1a" stroke-width="0.5">Ω</text><text x="-76.8" y="0" font-family="Liberation Sans, sans-serif" font-size="30" fill="#1a1a1a" >)</text></g>
<text x="252.3" y="210.2" font-family="Liberation Sans, sans-serif" font-size="26.5" fill="#1a1a1a"><tspan font-style="italic">B</tspan><tspan font-style="italic" font-size="18.3" dy="7.3" dx="-0.7">c</tspan></text>
<path transform="translate(0,0)" d="M121.57,170.72 L123.91,175.48 L125.70,179.97 L127.23,184.01 L128.13,185.0 L129.48,184.46 L130.83,182.22 L133.97,175.48 Q135.0,173 135.14,171.88 Q135.6,170.3 135.41,169.64 Q135.2,168.6 134.42,168.47 L133.25,168.47 L132.62,169.01 Q133.3,170 133.07,170.98 L132.44,173.23 L131.27,175.48 L129.30,180.42 L128.13,175.48 L126.96,171.43 L126.06,169.19 L124.54,168.47 L122.29,169.19 L120.49,170.27 L119.86,170.98 L120.49,171.43 Z" fill="#1a1a1a" stroke="#1a1a1a" stroke-width="0.45" stroke-linejoin="round"/>
<rect x="136.0" y="171.90" width="16.4" height="2.7" fill="#1a1a1a"/>
<rect x="136.0" y="177.30" width="16.4" height="2.7" fill="#1a1a1a"/>
<text transform="translate(153.0,184.0) scale(1.02,1)" font-family="Liberation Sans, sans-serif" font-size="33.2" fill="#1a1a1a">4</text>
<path transform="translate(410.45,-112.27)" d="M121.57,170.72 L123.91,175.48 L125.70,179.97 L127.23,184.01 L128.13,185.0 L129.48,184.46 L130.83,182.22 L133.97,175.48 Q135.0,173 135.14,171.88 Q135.6,170.3 135.41,169.64 Q135.2,168.6 134.42,168.47 L133.25,168.47 L132.62,169.01 Q133.3,170 133.07,170.98 L132.44,173.23 L131.27,175.48 L129.30,180.42 L128.13,175.48 L126.96,171.43 L126.06,169.19 L124.54,168.47 L122.29,169.19 L120.49,170.27 L119.86,170.98 L120.49,171.43 Z" fill="#1a1a1a" stroke="#1a1a1a" stroke-width="0.45" stroke-linejoin="round"/>
<rect x="546.6" y="59.63" width="16.4" height="2.7" fill="#1a1a1a"/>
<rect x="546.6" y="65.03" width="16.4" height="2.7" fill="#1a1a1a"/>
<text transform="translate(563.7,71.9) scale(1.08,1)" font-family="Liberation Sans, sans-serif" font-size="33.2" fill="#1a1a1a">3</text>
</svg>
</body></html>
